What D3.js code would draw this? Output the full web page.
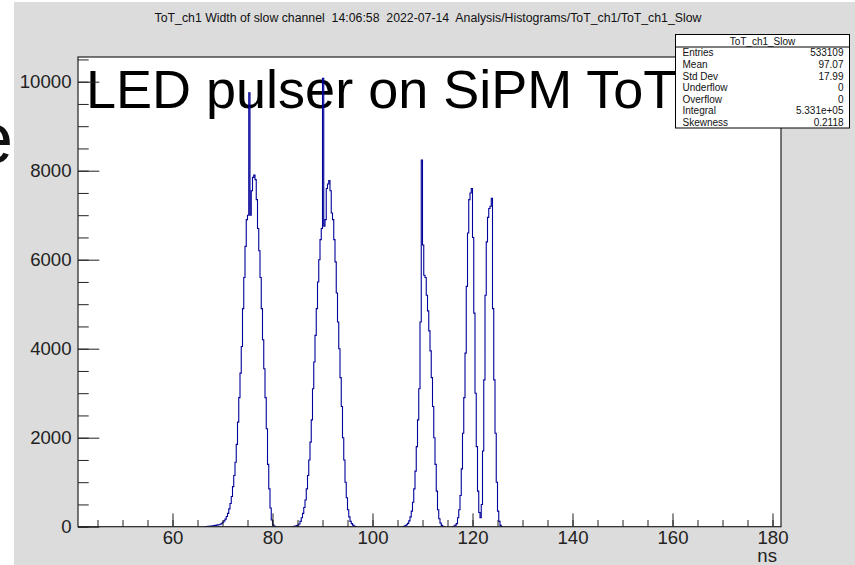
<!DOCTYPE html>
<html>
<head>
<meta charset="utf-8">
<script src="https://cdn.jsdelivr.net/npm/d3@7"></script>
<style>
  body { margin: 0; background: #fff; }
  svg { display: block; font-family: "Liberation Sans", Arial, sans-serif; }
</style>
</head>
<body>
<div id="chart"></div>
<script>
// histogram ToT_ch1_Slow, bins of 0.25 ns, only the non-empty regions are listed
const binWidth = 0.25;

const peak1Start = 66.5;
const peak1Counts = [3, 5, 8, 10, 12, 15, 20, 25, 30, 35, 40, 45, 55, 75, 100, 130,
  170, 230, 300, 400, 520, 680, 900, 1150, 1450, 1850, 2350, 2900, 3450, 4050,
  4900, 5600, 6300, 6900, 7000, 9750, 7000, 7550, 7850, 7900, 7800, 7350, 6700,
  6200, 5600, 4900, 4200, 3550, 2900, 2200, 1400, 850, 420, 150, 40, 15, 5];

const peak2Start = 84.0;
const peak2Counts = [5, 10, 15, 25, 35, 60, 120, 200, 300, 430, 600, 850, 1150, 1500,
  1900, 2400, 3100, 3700, 4300, 4900, 5500, 6000, 6450, 6700, 10075, 6750, 6900,
  7600, 7700, 7780, 7550, 7050, 6900, 6450, 5950, 5250, 4600, 4000, 3350, 2700,
  2000, 1500, 1000, 650, 380, 220, 120, 70, 35, 15, 5];

const peak3Start = 106.0;
const peak3Counts = [5, 10, 25, 45, 75, 130, 220, 350, 550, 850, 1250, 1800, 2400,
  3100, 4600, 8240, 6330, 5650, 5600, 5200, 4850, 4400, 3950, 3350, 2700, 2000,
  1400, 800, 380, 180, 80, 30, 10];

const peak45Start = 116.0;
const peak45Counts = [5, 15, 35, 70, 200, 380, 700, 1300, 2100, 2900, 3900, 5400,
  6600, 7350, 7500, 7600, 6500, 4800, 3000, 1800, 800, 320, 200, 500, 1700, 3300,
  5200, 6400, 6950, 7150, 7200, 7380, 4900, 3300, 2100, 1000, 350, 120, 30, 5];

const xMajorTicks = [60, 80, 100, 120, 140, 160, 180];
const xMinorTicks = d3.range(45, 181, 5);
const yMajorTicks = [0, 2000, 4000, 6000, 8000, 10000];
const yMinorTicks = d3.range(0, 10501, 500);

const titleText = 'ToT_ch1 Width of slow channel  14:06:58  2022-07-14  Analysis/Histograms/ToT_ch1/ToT_ch1_Slow';
const statsTitle = 'ToT_ch1_Slow';
const statsLabels = ['Entries', 'Mean', 'Std Dev', 'Underflow', 'Overflow', 'Integral', 'Skewness'];
const statsValues = ['533109', '97.07', '17.99', '0', '0', '5.331e+05', '0.2118'];

const W = 855, H = 565;
const frame = { left: 78, right: 781, top: 57, bottom: 526.7 };

const svg = d3.select('#chart').append('svg')
  .attr('width', W)
  .attr('height', H);

// slide fragment on the left edge
svg.append('rect').attr('width', W).attr('height', H).attr('fill', '#fff');
svg.append('text')
  .attr('x', -27).attr('y', 163)
  .attr('font-size', 72).attr('fill', '#111')
  .text('e');

// canvas
svg.append('rect')
  .attr('x', 14).attr('y', 2)
  .attr('width', W - 14).attr('height', H - 2)
  .attr('fill', '#dcdcdc');

svg.append('rect')
  .attr('x', frame.left).attr('y', frame.top)
  .attr('width', frame.right - frame.left)
  .attr('height', frame.bottom - frame.top)
  .attr('fill', '#fff');

const x = d3.scaleLinear().domain([41.1, 181.7]).range([frame.left, frame.right]);
const y = d3.scaleLinear().domain([0, 10555]).range([frame.bottom, frame.top]);

// overlay text from the slide
svg.append('text')
  .attr('x', 86).attr('y', 108)
  .attr('font-size', 54).attr('fill', '#000')
  .text('LED pulser on SiPM ToT');

// histogram
const peaks = [
  { start: peak1Start, counts: peak1Counts },
  { start: peak2Start, counts: peak2Counts },
  { start: peak3Start, counts: peak3Counts },
  { start: peak45Start, counts: peak45Counts }
];

const line = d3.line()
  .x(d => x(d[0]))
  .y(d => y(d[1]))
  .curve(d3.curveStepAfter);

peaks.forEach(p => {
  const pts = [[p.start, 0]];
  p.counts.forEach((c, i) => pts.push([p.start + i * binWidth, c]));
  pts.push([p.start + p.counts.length * binWidth, 0]);
  svg.append('path')
    .attr('d', line(pts))
    .attr('fill', 'none')
    .attr('stroke', '#00009a')
    .attr('stroke-width', 1.1);
});

// axes (ROOT style, ticks inside the frame)
const axisColor = '#222';

const xMinor = svg.append('g')
  .attr('transform', `translate(0,${frame.bottom})`)
  .call(d3.axisBottom(x).tickValues(xMinorTicks).tickSize(-6.7).tickFormat(''));
const xMajor = svg.append('g')
  .attr('transform', `translate(0,${frame.bottom})`)
  .call(d3.axisBottom(x).tickValues(xMajorTicks).tickSize(-13.3).tickPadding(4.5).tickFormat(d3.format('d')));
const yMinor = svg.append('g')
  .attr('transform', `translate(${frame.left},0)`)
  .call(d3.axisLeft(y).tickValues(yMinorTicks).tickSize(-10.7).tickFormat(''));
const yMajor = svg.append('g')
  .attr('transform', `translate(${frame.left},0)`)
  .call(d3.axisLeft(y).tickValues(yMajorTicks).tickSize(-21.3).tickPadding(6.5).tickFormat(d3.format('d')));

[xMinor, xMajor, yMinor, yMajor].forEach(g => {
  g.select('.domain').remove();
  g.selectAll('line').attr('stroke', axisColor);
  g.selectAll('text')
    .attr('font-size', 18.6)
    .attr('fill', axisColor)
    .attr('font-family', '"Liberation Sans", Arial, sans-serif');
});

svg.append('text')
  .attr('x', 777).attr('y', 562)
  .attr('text-anchor', 'end')
  .attr('font-size', 18.6).attr('fill', axisColor)
  .text('ns');

svg.append('rect')
  .attr('x', frame.left).attr('y', frame.top)
  .attr('width', frame.right - frame.left)
  .attr('height', frame.bottom - frame.top)
  .attr('fill', 'none')
  .attr('stroke', axisColor)
  .attr('stroke-width', 1.2);

// title
svg.append('text')
  .attr('x', 428).attr('y', 22)
  .attr('text-anchor', 'middle')
  .attr('font-size', 12.3).attr('fill', '#111')
  .style('white-space', 'pre')
  .text(titleText);

// stats box
const box = { left: 675.5, right: 849.5, top: 34.5, header: 47, bottom: 128 };
svg.append('rect')
  .attr('x', box.left).attr('y', box.top)
  .attr('width', box.right - box.left).attr('height', box.bottom - box.top)
  .attr('fill', '#fff').attr('stroke', '#000').attr('stroke-width', 1);
svg.append('line')
  .attr('x1', box.left).attr('x2', box.right)
  .attr('y1', box.header).attr('y2', box.header)
  .attr('stroke', '#000');
svg.append('text')
  .attr('x', (box.left + box.right) / 2).attr('y', 44.5)
  .attr('text-anchor', 'middle')
  .attr('font-size', 10).attr('fill', '#111')
  .text(statsTitle);

const rowH = (box.bottom - box.header) / statsLabels.length;
statsLabels.forEach((lab, i) => {
  const yy = box.header + rowH * (i + 0.5) + 3.6;
  svg.append('text')
    .attr('x', box.left + 7).attr('y', yy)
    .attr('font-size', 10).attr('fill', '#111')
    .text(lab);
  svg.append('text')
    .attr('x', box.right - 6).attr('y', yy)
    .attr('text-anchor', 'end')
    .attr('font-size', 10).attr('fill', '#111')
    .text(statsValues[i]);
});
</script>
</body>
</html>
